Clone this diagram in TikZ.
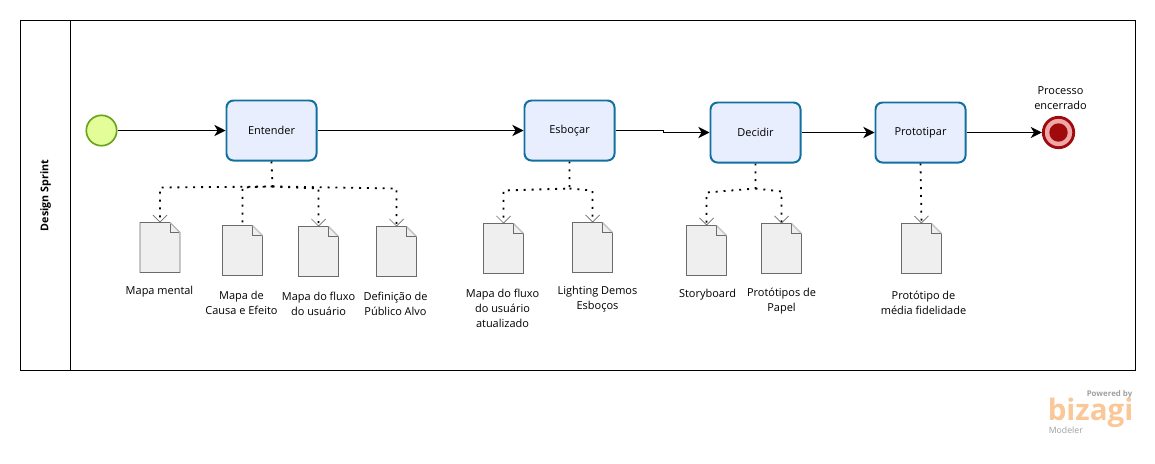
\documentclass[tikz,border=0pt]{standalone}
\usepackage{fontspec}
\setmainfont{Open Sans}
\usetikzlibrary{arrows.meta,positioning}
\definecolor{TaskLight}{HTML}{E9EEFE}
\definecolor{TaskDark}{HTML}{11709F}
\definecolor{StartLight}{HTML}{E3FE99}
\definecolor{StartDark}{HTML}{6BA51C}
\definecolor{EndLight}{HTML}{EFA7A7}
\definecolor{EndDark}{HTML}{A00A0C}
\definecolor{DocLight}{HTML}{EFEFEF}
\definecolor{DocDark}{HTML}{6B6B6B}
\definecolor{LogoOrange}{HTML}{FAC898}
\definecolor{LogoGray}{HTML}{9F9F9F}

\begin{document}
\begin{tikzpicture}[
  x=0.025cm, y=-0.025cm,
  >={Stealth[length=8pt,width=8pt,inset=2.4pt]},
  font=\fontsize{7.8}{10.7}\selectfont,
  task/.style={draw=TaskDark, fill=TaskLight, line width=1.4pt, rounded corners=5pt, align=center, minimum width=2.25cm, minimum height=1.5cm, inner sep=0pt},
  startev/.style={circle, draw=StartDark, fill=StartLight, line width=1.2pt, minimum size=0.76cm, inner sep=0pt},
  endev/.style={circle, draw=EndDark, fill=EndLight, line width=2pt, minimum size=0.76cm, inner sep=0pt},
  docbox/.style={minimum width=1cm, minimum height=1.25cm, inner sep=0pt, outer sep=0pt},
  lbl/.style={align=center, inner sep=0pt, yshift=-1pt},
  flow/.style={->, line width=0.7pt},
  assoc/.style={line width=1.3pt, dash pattern=on 1.4pt off 4.2pt},
  assocarr/.style={assoc, -{Straight Barb[length=5pt,width=10pt,line width=0.5pt,color=DocDark]}}
]
\useasboundingbox (-0.5,-0.5) rectangle (1154.5,462.5);

% Pool
\node[draw=black, line width=0.7pt, minimum width=27.875cm, minimum height=8.75cm, inner sep=0pt] (pool) at (577.5,195) {};
\coordinate (laneTop) at (70,20);
\coordinate (laneBot) at (70,370);
\draw[line width=0.7pt] (laneTop) -- (laneBot);
\node[rotate=90, font=\fontsize{7.6}{10}\selectfont\bfseries, inner sep=0pt] (poolname) at (45,195) {Design Sprint};

% Events and tasks
\node[startev] (start) at (101,130) {};
\node[task] (ent) at (271,130) {Entender};
\node[task] (esb) at (569,130) {Esboçar};
\node[task] (dec) at (755,132) {Decidir};
\node[task] (pro) at (920,132) {Prototipar};
\node[endev] (fim) at (1058,132) {};
\node[circle, fill=EndDark, minimum size=0.46cm, inner sep=0pt] (fimin) at (fim) {};
\node[lbl] (fimlbl) at (1060,96) {Processo\\encerrado};

% Flows
\draw[flow] (start) -- (ent);
\draw[flow] (ent) -- (esb);
\draw[flow] (esb.east) -- ++(48,0) -- ++(0,2) -- (dec.west);
\draw[flow] (dec) -- (pro);
\draw[flow] (pro) -- (fim);

% Artifacts
\foreach \name/\px/\py in {mental/159.5/247, causa/242/250, fluxo/318/251, publico/396/251, fluxob/503/248, demos/592/247, story/706/250, papel/781/248, media/921/248}{
  \node[docbox] (\name) at (\px,\py) {};
  \draw[DocDark, line width=0.6pt, fill=DocLight] (\name.north west) -- ++(30,0) -- ++(10,10) -- (\name.south east) -- (\name.south west) -- cycle;
  \draw[DocDark, line width=0.5pt] (\name.north west) ++(30,0) -- ++(0,10) -- ++(10,0);
  \draw[white!70!DocDark, line width=0.5pt] (\name.north west) ++(30,0) -- ++(10,10);
}

% Associations
\draw[assocarr] (ent.south) -- (272,186) -- (159.5,187) -- (mental.north);
\draw[assoc] (272,186) -- (242,187) -- (causa.north);
\draw[assocarr] (272,186) -- (318,188) -- (fluxo.north);
\draw[assocarr] (272,186) -- (396,188) -- (publico.north);
\draw[assocarr] (esb.south) -- (569,188) -- (503,190) -- (fluxob.north);
\draw[assocarr] (569,188) -- (592,190) -- (demos.north);
\draw[assocarr] (dec.south) -- (755,188) -- (706,192) -- (story.north);
\draw[assocarr] (755,188) -- (781,191) -- (papel.north);
\draw[assocarr] (pro.south) -- (media.north);

% Labels
\node[lbl] (lmental) at (159,290) {Mapa mental};
\node[lbl] (lcausa) at (241,301) {Mapa de\\Causa e Efeito};
\node[lbl] (lfluxo) at (318,302) {Mapa do fluxo\\do usuário};
\node[lbl] (lpublico) at (395,302) {Definição de\\Público Alvo};
\node[lbl] (lfluxob) at (502,306) {Mapa do fluxo\\do usuário\\atualizado};
\node[lbl] (ldemos) at (597,297) {Lighting Demos\\Esboços};
\node[lbl] (lstory) at (707,293) {Storyboard};
\node[lbl] (lpapel) at (781,299) {Protótipos de\\Papel};
\node[lbl] (lmedia) at (923,301) {Protótipo de\\média fidelidade};

% Logo
\node[lbl, anchor=east, text=LogoGray, font=\fontsize{5.6}{7}\selectfont\bfseries] (powered) at (1132,393) {Powered by};
\node[anchor=base west, inner sep=0pt, text height=15pt, text depth=0pt, text=LogoOrange, font=\fontsize{21}{22}\selectfont\bfseries] (bizagi) at (1047,420) {bizagi};
\node[lbl, anchor=west, text=LogoGray, font=\fontsize{6.2}{7}\selectfont] (modeler) at (1048,428) {Modeler};
\end{tikzpicture}
\end{document}
